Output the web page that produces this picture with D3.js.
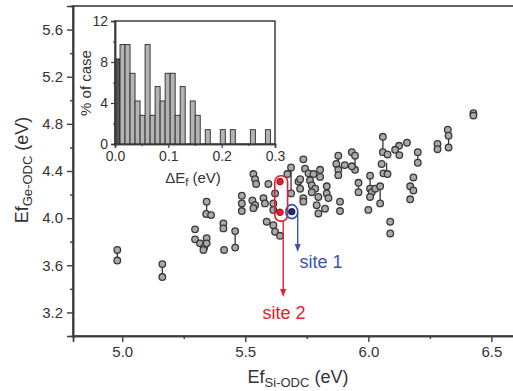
<!DOCTYPE html>
<html><head><meta charset="utf-8">
<script src="https://cdn.jsdelivr.net/npm/d3@7"></script>
<style>
html,body{margin:0;padding:0;background:#fff;}
svg text{font-family:"Liberation Sans",Arial,sans-serif;}
</style></head>
<body><svg id="c" width="513" height="391"></svg>
<script>
// ---------- data ----------
const efSi = [4.98,4.98,5.163,5.163,
 5.343,5.341,5.361,5.296,5.296,5.316,5.333,5.343,5.343,5.33,
 5.411,5.411,5.414,5.459,5.459,
 5.486,5.486,5.486,5.529,5.54,
 5.533,5.54,5.544,5.594,5.533,5.574,5.58,5.621,5.614,5.614,
 5.587,5.614,5.621,5.641,
 5.686,5.686,5.671,
 5.736,5.743,5.757,5.777,5.763,5.804,5.804,5.716,5.723,5.77,5.784,5.77,5.831,5.831,5.838,5.797,5.79,5.824,5.797,5.736,5.736,5.885,5.885,
 5.878,5.87,5.878,5.878,5.904,5.933,5.946,5.946,5.933,5.96,5.96,
 6.007,6.007,6.014,6.007,6.0,6.028,6.048,6.048,
 6.059,6.059,6.078,6.054,6.061,6.078,
 6.125,6.109,6.126,6.089,6.089,
 6.427,6.427,6.323,6.326,6.326,6.281,6.281,6.201,6.201,6.157,6.183,6.17,6.183,6.17,5.723];
const efGe = [3.73,3.64,3.61,3.50,
 4.14,4.035,4.026,3.905,3.82,3.786,3.752,3.83,3.786,3.73,
 3.955,3.913,3.73,3.89,3.75,
 4.19,4.125,4.06,4.15,4.11,
 4.374,4.33,4.29,4.29,4.085,4.17,4.125,4.21,4.125,4.07,
 3.97,3.94,3.885,3.85,
 4.43,4.21,4.374,
 4.499,4.42,4.38,4.374,4.32,4.41,4.35,4.31,4.25,4.28,4.25,4.22,4.27,4.21,4.17,4.18,4.11,4.08,4.04,4.17,4.14,4.14,4.06,
 4.53,4.46,4.41,4.365,4.45,4.56,4.53,4.41,4.44,4.30,4.22,
 4.36,4.25,4.22,4.18,4.07,4.25,4.27,4.125,
 4.69,4.56,4.54,4.46,4.38,4.374,
 4.614,4.58,4.535,3.97,3.87,
 4.89,4.87,4.75,4.70,4.60,4.63,4.585,4.56,4.47,4.64,4.345,4.27,4.235,4.16,4.33];
// vertical connectors between paired points: x, y-low, y-high
const linkX  = [4.98,5.163,5.343,5.459,5.686,6.059,5.878,5.946,6.007,6.048,6.326,5.96,6.074,6.201];
const linkLo = [3.64,3.50,4.035,3.75,4.21,4.56,4.365,4.41,4.25,4.125,4.60,4.22,4.37,4.47];
const linkHi = [3.73,3.61,4.14,3.89,4.43,4.69,4.53,4.53,4.36,4.27,4.75,4.30,4.47,4.56];
// highlighted sites
const site2X = [5.641,5.641], site2Y = [4.31,4.05];
const site1X = [5.689], site1Y = [4.055];
// inset histogram
const histBinWidth = 0.0094;
const histBinStart = [0,1,2,3,4,5,6,7,8,9,10,11,12,13,15,16,18,21,23,27,30].map(k=>k*histBinWidth);
const histPercent  = [8.3,9.7,9.7,6.9,4.2,2.8,9.7,2.8,5.6,4.2,6.9,6.9,2.8,5.6,4.2,2.8,1.4,1.4,1.4,1.4,1.4];
const xTicks = [5.0,5.5,6.0,6.5], xMinor = [5.25,5.75,6.25];
const yTicks = [3.2,3.6,4.0,4.4,4.8,5.2,5.6], yMinor = [3.4,3.8,4.2,4.6,5.0,5.4];
const insXTicks = [0,0.1,0.2,0.3], insXMinor=[0.05,0.15,0.25];
const insYTicks = [0,4,8,12], insYMinor=[2,6,10];

// ---------- scales ----------
const svg = d3.select("#c");
const x = d3.scaleLinear().domain([4.8,6.6]).range([73,516]);
const y = d3.scaleLinear().domain([3.0,5.8]).range([336,6]);
const ix = d3.scaleLinear().domain([0,0.3]).range([115,275]);
const iy = d3.scaleLinear().domain([0,12]).range([144,21]);
const axCol = "#3c3c3c", txtCol="#333";

// main frame
svg.append("rect").attr("x",x(4.8)).attr("y",y(5.8)).attr("width",x(6.6)-x(4.8)).attr("height",y(3.0)-y(5.8))
  .attr("fill","none").attr("stroke",axCol).attr("stroke-width",1.6);

// axes
const gx = svg.append("g").attr("transform",`translate(0,${y(3.0)})`)
  .call(d3.axisBottom(x).tickValues(xTicks).tickFormat(d3.format(".1f")).tickSize(6).tickPadding(4));
const gxm = svg.append("g").attr("transform",`translate(0,${y(3.0)})`)
  .call(d3.axisBottom(x).tickValues(xMinor).tickFormat("").tickSize(3));
const gy = svg.append("g").attr("transform",`translate(${x(4.8)},0)`)
  .call(d3.axisLeft(y).tickValues(yTicks).tickFormat(d3.format(".1f")).tickSize(6).tickPadding(4));
const gym = svg.append("g").attr("transform",`translate(${x(4.8)},0)`)
  .call(d3.axisLeft(y).tickValues(yMinor).tickFormat("").tickSize(3));
[gx,gxm,gy,gym].forEach(g=>{
  g.select(".domain").attr("stroke",axCol).attr("stroke-width",1.6);
  g.selectAll(".tick line").attr("stroke",axCol).attr("stroke-width",1.4);
  g.selectAll(".tick text").attr("fill",txtCol).style("font-size","15px");
});

// axis titles
const xt = svg.append("text").attr("x",298).attr("y",383).attr("text-anchor","middle").attr("fill",txtCol).style("font-size","18px");
xt.append("tspan").text("Ef");
xt.append("tspan").attr("dy",4).style("font-size","13px").text("Si-ODC");
xt.append("tspan").attr("dy",-4).text(" (eV)");
const yt = svg.append("text").attr("transform","translate(28,170) rotate(-90)").attr("text-anchor","middle").attr("fill",txtCol).style("font-size","18px");
yt.append("tspan").text("Ef");
yt.append("tspan").attr("dy",4).style("font-size","13px").text("Ge-ODC");
yt.append("tspan").attr("dy",-4).text(" (eV)");

// connectors
svg.append("g").selectAll("line").data(linkX).join("line")
  .attr("x1",d=>x(d)).attr("x2",d=>x(d))
  .attr("y1",(d,i)=>y(linkLo[i])).attr("y2",(d,i)=>y(linkHi[i]))
  .attr("stroke","#333").attr("stroke-width",1.3);

// points
svg.append("g").selectAll("circle").data(efSi).join("circle")
  .attr("cx",d=>x(d)).attr("cy",(d,i)=>y(efGe[i])).attr("r",3.3)
  .attr("fill","#a9a9a9").attr("stroke","#383838").attr("stroke-width",1.3);

// site 2 (red)
const red="#e4202c", blue="#3a55b0";
svg.append("rect").attr("x",x(5.62)).attr("y",y(4.36)).attr("width",x(5.672)-x(5.62)).attr("height",y(3.975)-y(4.36))
  .attr("rx",6).attr("fill","none").attr("stroke",red).attr("stroke-width",1.6);
svg.append("g").selectAll("circle").data(site2X).join("circle")
  .attr("cx",d=>x(d)).attr("cy",(d,i)=>y(site2Y[i])).attr("r",3.3)
  .attr("fill",red).attr("stroke","#a01010").attr("stroke-width",1);
function arrow(xv,y0,y1,col){
  svg.append("line").attr("x1",x(xv)).attr("x2",x(xv)).attr("y1",y(y0)).attr("y2",y(y1)-6)
    .attr("stroke",col).attr("stroke-width",1.4);
  const X=x(xv),Y=y(y1);
  svg.append("path").attr("d",`M${X-3},${Y-8}L${X+3},${Y-8}L${X},${Y}Z`).attr("fill",col);
}
arrow(5.654,3.975,3.33,red);
svg.append("text").attr("x",x(5.57)).attr("y",319).attr("fill",red).style("font-size","18px").text("site 2");

// site 1 (blue)
svg.append("ellipse").attr("cx",x(site1X[0])).attr("cy",y(site1Y[0])).attr("rx",6).attr("ry",7)
  .attr("fill","none").attr("stroke",blue).attr("stroke-width",1.6);
svg.append("circle").attr("cx",x(site1X[0])).attr("cy",y(site1Y[0])).attr("r",3.2)
  .attr("fill","#1c2a78").attr("stroke","#101a50").attr("stroke-width",1);
arrow(5.713,4.05,3.712,blue);
svg.append("text").attr("x",x(5.72)).attr("y",268).attr("fill",blue).style("font-size","18px").text("site 1");

// ---------- inset ----------
svg.append("rect").attr("x",ix(0)).attr("y",iy(12)).attr("width",ix(0.3)-ix(0)).attr("height",iy(0)-iy(12))
  .attr("fill","#fff").attr("stroke",axCol).attr("stroke-width",1.5);
svg.append("g").selectAll("rect").data(histBinStart).join("rect")
  .attr("x",d=>ix(d)).attr("width",ix(histBinWidth)-ix(0))
  .attr("y",(d,i)=>iy(histPercent[i])).attr("height",(d,i)=>iy(0)-iy(histPercent[i]))
  .attr("fill",(d,i)=>i===0?"#555":"#b4b4b4").attr("stroke","#2a2a2a").attr("stroke-width",0.9);
const igx = svg.append("g").attr("transform",`translate(0,${iy(0)})`)
  .call(d3.axisBottom(ix).tickValues(insXTicks).tickFormat(d3.format(".1f")).tickSize(4).tickPadding(3));
const igxm = svg.append("g").attr("transform",`translate(0,${iy(0)})`)
  .call(d3.axisBottom(ix).tickValues(insXMinor).tickFormat("").tickSize(2));
const igy = svg.append("g").attr("transform",`translate(${ix(0)},0)`)
  .call(d3.axisLeft(iy).tickValues(insYTicks).tickFormat(d3.format("d")).tickSize(4).tickPadding(3));
const igym = svg.append("g").attr("transform",`translate(${ix(0)},0)`)
  .call(d3.axisLeft(iy).tickValues(insYMinor).tickFormat("").tickSize(2));
[igx,igxm,igy,igym].forEach(g=>{
  g.select(".domain").attr("stroke",axCol).attr("stroke-width",1.5);
  g.selectAll(".tick line").attr("stroke",axCol).attr("stroke-width",1.2);
  g.selectAll(".tick text").attr("fill",txtCol).style("font-size","14px");
});
svg.append("text").attr("transform","translate(91,83) rotate(-90)").attr("text-anchor","middle")
  .attr("fill",txtCol).style("font-size","15px").text("% of case");
const it = svg.append("text").attr("x",193).attr("y",183).attr("text-anchor","middle").attr("fill",txtCol).style("font-size","15px");
it.append("tspan").text("ΔE");
it.append("tspan").attr("dy",3).style("font-size","11px").text("f");
it.append("tspan").attr("dy",-3).text(" (eV)");
</script></body></html>
